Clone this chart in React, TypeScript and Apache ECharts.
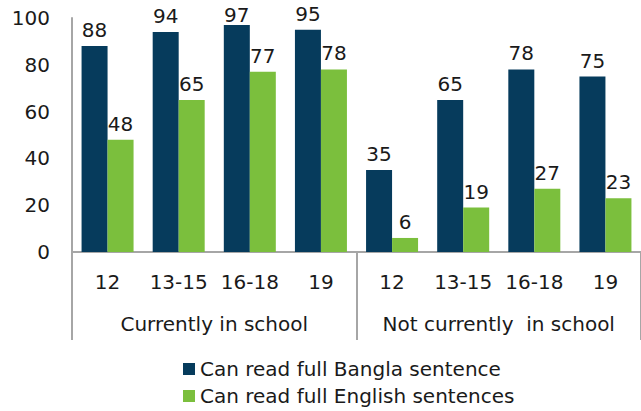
import React, { useEffect, useRef } from "react";
import * as echarts from "echarts";

const ageLabels = ["12", "13-15", "16-18", "19", "12", "13-15", "16-18", "19"];
const groupLabels = ["Currently in school", "Not currently  in school"];
const banglaValues = [88, 94, 97, 95, 35, 65, 78, 75];
const englishValues = [48, 65, 77, 78, 6, 19, 27, 23];
const seriesNames = ["Can read full Bangla sentence", "Can read full English sentences"];
const yTicks = { min: 0, max: 100, interval: 20 };

const FONT = "DejaVu Sans";
const TEXT = "#1a1a1a";
const AXIS = "#a6a6a6";
const FS = 20;

// labels that would run off the top edge sit right on their bar
const withLabelFit = (vals: number[]) =>
  vals.map((v) => (v > 96 ? { value: v, label: { distance: 0 } } : v));

export default function App() {
  const ref = useRef<HTMLDivElement>(null);
  useEffect(() => {
    if (!ref.current) return;
    const chart = echarts.init(ref.current, undefined, { renderer: "svg" });
    const label = {
      show: true,
      position: "top",
      distance: 6,
      color: TEXT,
      fontSize: FS,
      fontFamily: FONT,
    };
    chart.setOption({
      animation: false,
      textStyle: { fontFamily: FONT },
      grid: { left: 72, right: -3, top: 18, bottom: 159, containLabel: false },
      legend: {
        orient: "vertical",
        left: 183,
        top: 359,
        height: 60,
        padding: 0,
        itemWidth: 12,
        itemHeight: 12,
        itemGap: 7,
        icon: "rect",
        textStyle: { color: TEXT, fontSize: FS, fontFamily: FONT },
        data: seriesNames,
      },
      xAxis: [
        {
          type: "category",
          data: ageLabels,
          position: "bottom",
          axisLine: { show: true, lineStyle: { color: AXIS, width: 2 } },
          axisTick: { show: false },
          axisLabel: { color: TEXT, fontSize: FS, fontFamily: FONT, margin: 20, interval: 0 },
        },
        {
          type: "category",
          data: groupLabels,
          position: "bottom",
          axisLine: { show: false },
          axisTick: { show: true, length: 88, lineStyle: { color: AXIS, width: 2 } },
          axisLabel: { color: TEXT, fontSize: FS, fontFamily: FONT, margin: 62, interval: 0 },
        },
      ],
      yAxis: {
        type: "value",
        min: yTicks.min,
        max: yTicks.max,
        interval: yTicks.interval,
        splitLine: { show: false },
        axisLine: { show: true, lineStyle: { color: AXIS, width: 2 } },
        axisTick: { show: false },
        axisLabel: { color: TEXT, fontSize: FS, fontFamily: FONT, margin: 22 },
      },
      series: [
        {
          name: seriesNames[0],
          type: "bar",
          data: withLabelFit(banglaValues),
          barWidth: 26,
          barGap: "0%",
          itemStyle: { color: "#063B5C" },
          label,
        },
        {
          name: seriesNames[1],
          type: "bar",
          data: withLabelFit(englishValues),
          barWidth: 26,
          barGap: "0%",
          itemStyle: { color: "#7BBF3D" },
          label,
        },
      ],
    });
    return () => chart.dispose();
  }, []);
  return <div ref={ref} style={{ width: 641, height: 411, position: "absolute", left: 0, top: 0 }} />;
}
